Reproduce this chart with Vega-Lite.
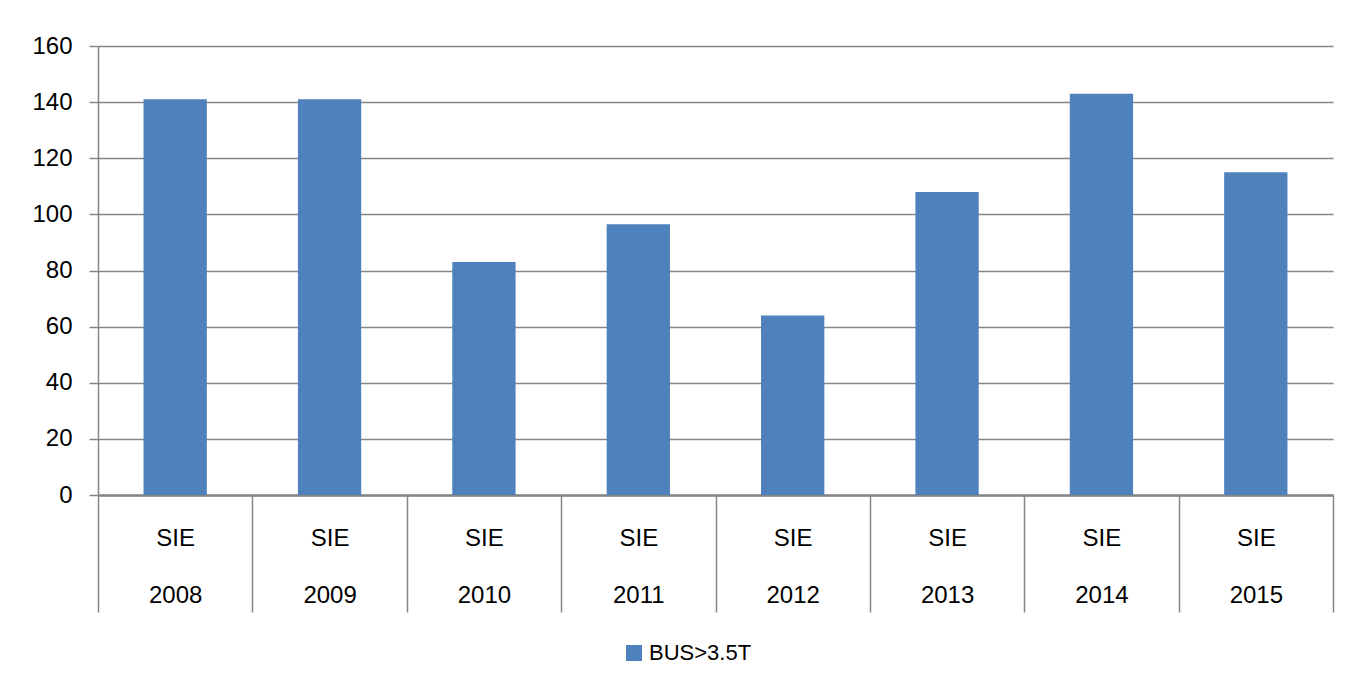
{
  "$schema": "https://vega.github.io/schema/vega-lite/v6.json",
  "width": 1235,
  "height": 449,
  "autosize": {"type": "none"},
  "padding": {"left": 98, "top": 46, "right": 21, "bottom": 195},
  "background": "white",
  "data": {
    "values": [
      {"year": "2008", "series": "BUS>3.5T", "value": 141},
      {"year": "2009", "series": "BUS>3.5T", "value": 141},
      {"year": "2010", "series": "BUS>3.5T", "value": 83},
      {"year": "2011", "series": "BUS>3.5T", "value": 96.5},
      {"year": "2012", "series": "BUS>3.5T", "value": 64},
      {"year": "2013", "series": "BUS>3.5T", "value": 108},
      {"year": "2014", "series": "BUS>3.5T", "value": 143},
      {"year": "2015", "series": "BUS>3.5T", "value": 115}
    ]
  },
  "mark": {"type": "bar", "width": {"band": 0.41}},
  "encoding": {
    "x": {
      "field": "year",
      "type": "nominal",
      "sort": null,
      "scale": {"paddingInner": 0, "paddingOuter": 0},
      "axis": {
        "title": null,
        "labelAngle": 0,
        "labelExpr": "datum.label ? ['SIE', datum.label] : ''",
        "labelLineHeight": 57,
        "labelBaseline": "top",
        "labelPadding": -86,
        "labelFont": "Liberation Sans",
        "labelFontSize": 24,
        "labelColor": "#000000",
        "tickBand": "extent",
        "tickSize": 117,
        "tickColor": "#868686",
        "tickWidth": 1.5,
        "domainColor": "#868686",
        "domainWidth": 2.5,
        "grid": false
      }
    },
    "y": {
      "field": "value",
      "type": "quantitative",
      "scale": {"domain": [0, 160], "nice": false},
      "axis": {
        "title": null,
        "values": [0, 20, 40, 60, 80, 100, 120, 140, 160],
        "labelFont": "Liberation Sans",
        "labelFontSize": 24,
        "labelColor": "#000000",
        "labelPadding": 17,
        "tickSize": 9,
        "tickColor": "#868686",
        "tickWidth": 1.5,
        "domainColor": "#868686",
        "domainWidth": 1.5,
        "grid": true,
        "gridColor": "#868686",
        "gridWidth": 1.5
      }
    },
    "color": {
      "field": "series",
      "type": "nominal",
      "scale": {"range": ["#4F81BD"]},
      "legend": {
        "title": null,
        "orient": "none",
        "legendX": 525,
        "legendY": 596,
        "symbolType": "square",
        "symbolSize": 256,
        "symbolStrokeWidth": 0,
        "labelFont": "Liberation Sans",
        "labelFontSize": 22,
        "labelColor": "#000000"
      }
    }
  },
  "config": {
    "view": {"stroke": null}
  }
}
